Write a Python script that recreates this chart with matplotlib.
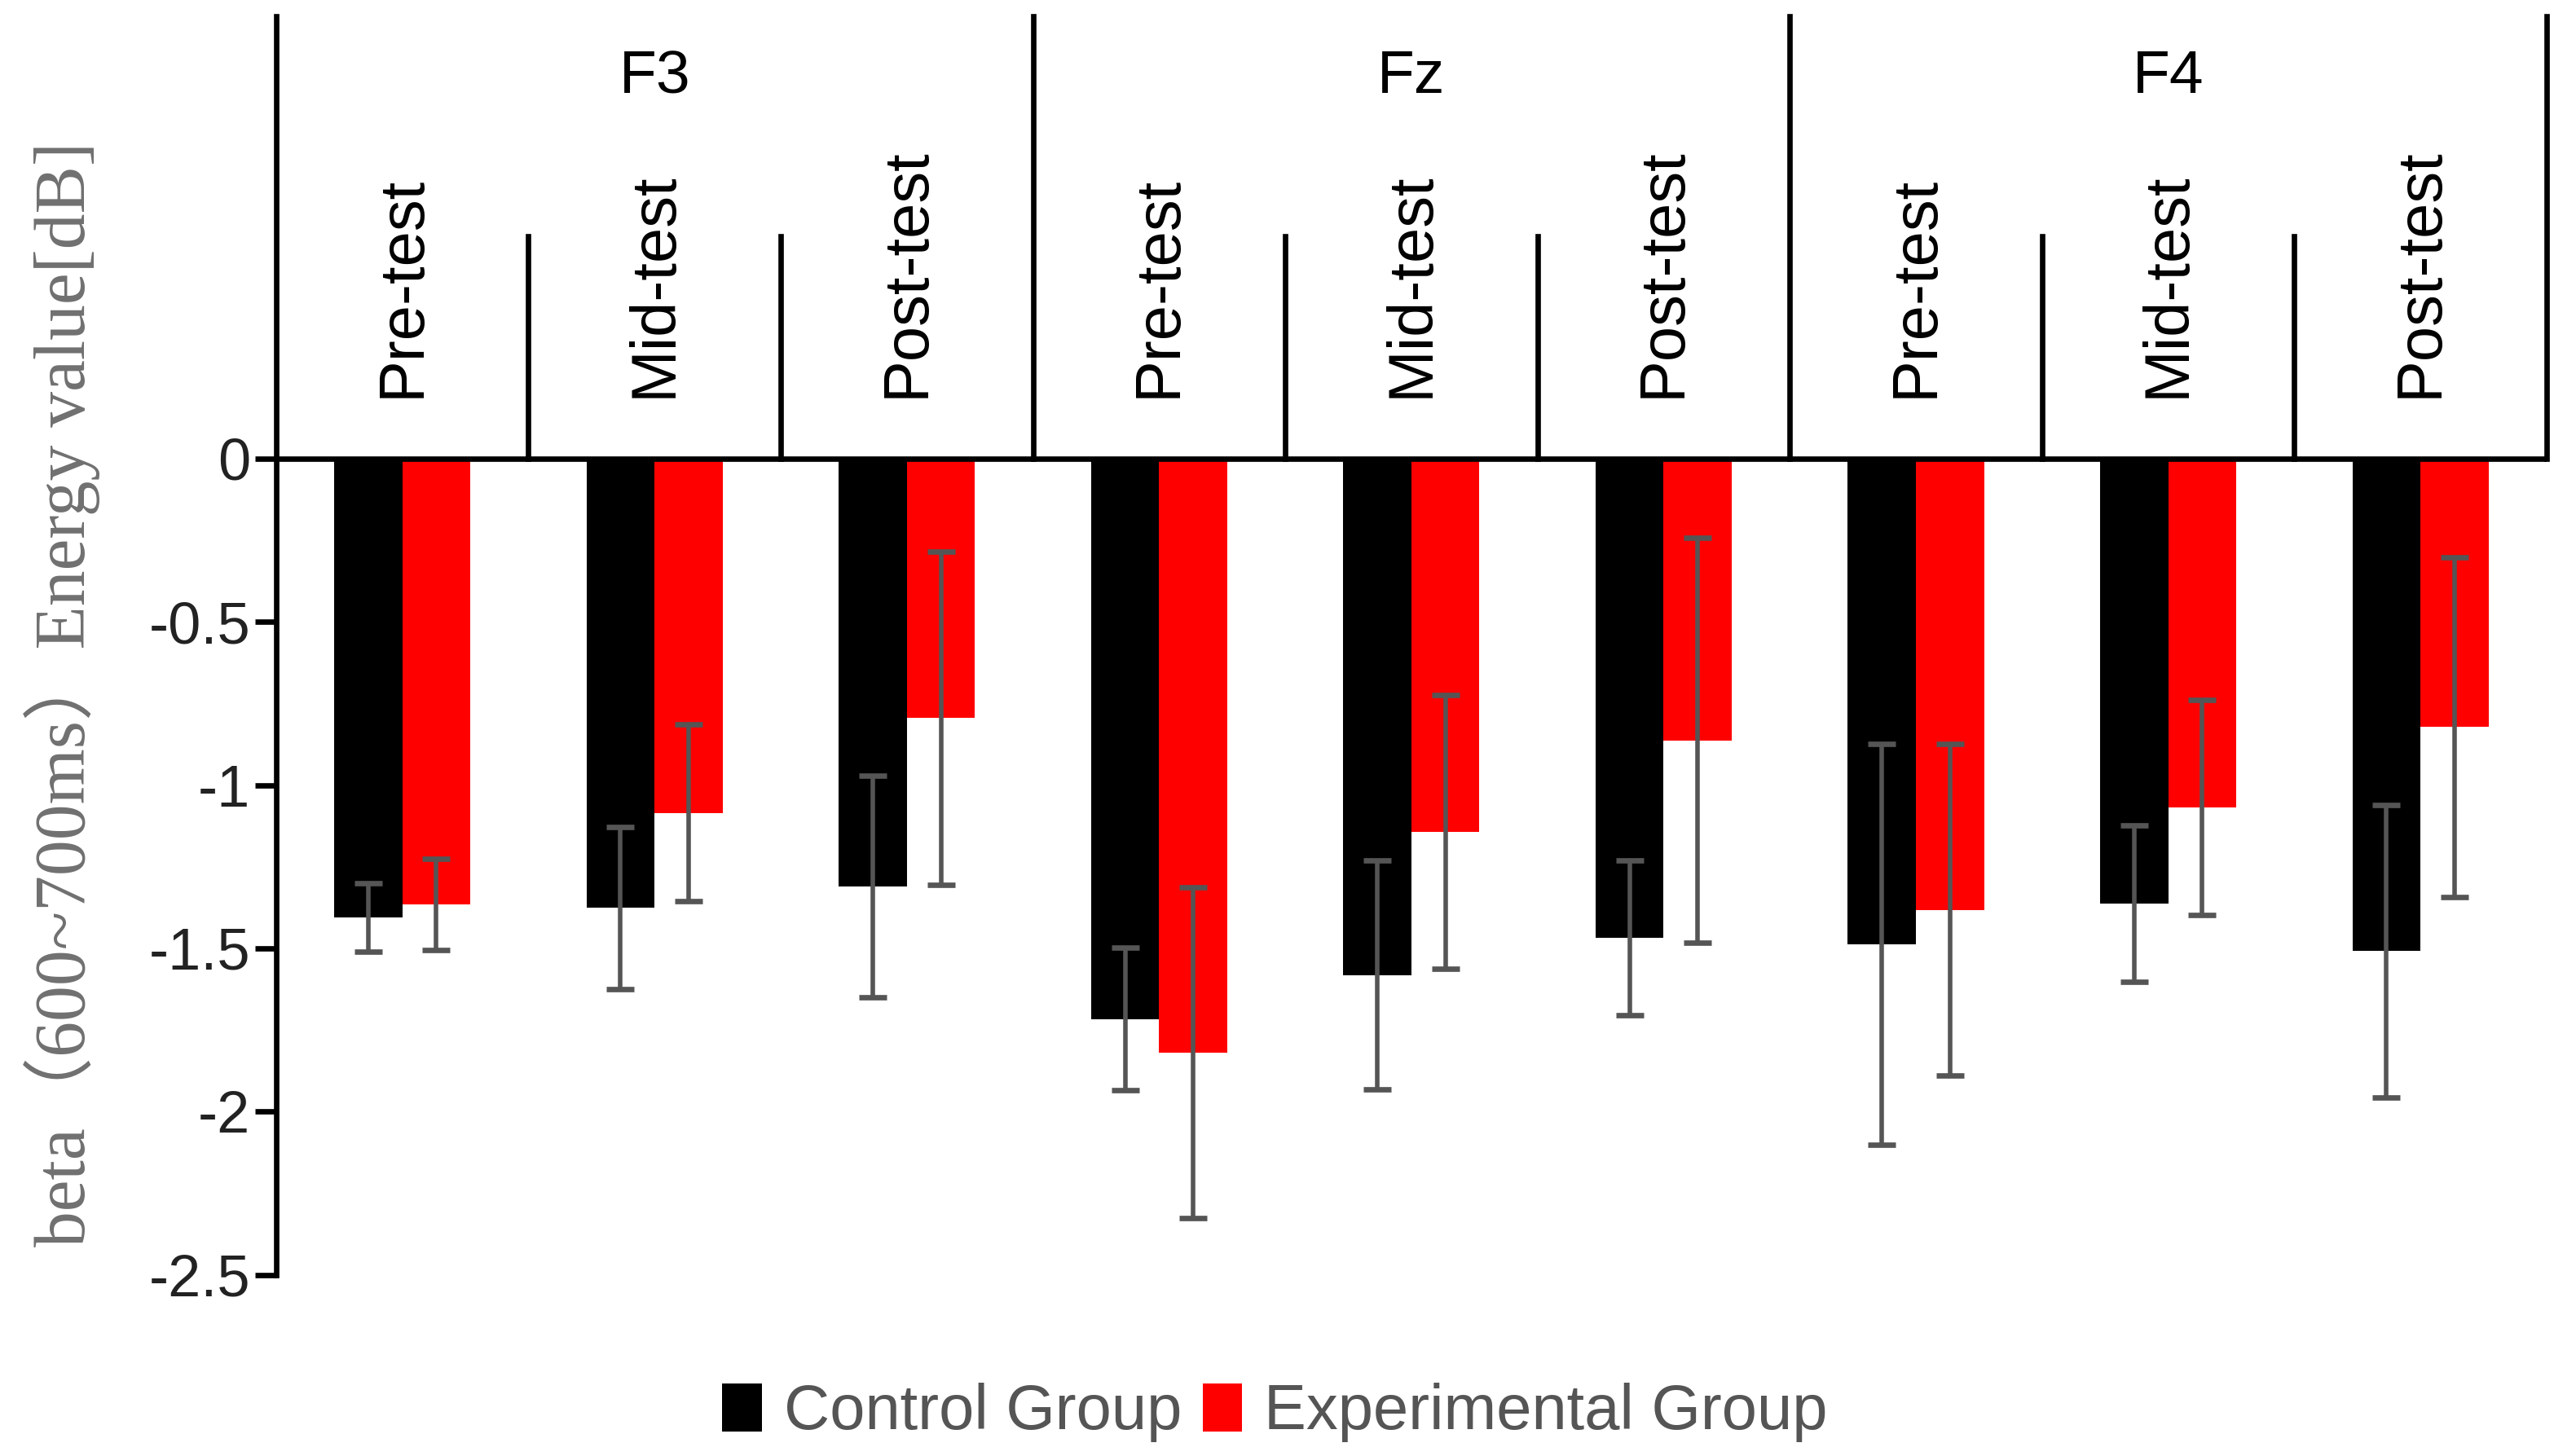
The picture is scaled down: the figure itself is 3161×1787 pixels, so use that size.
import matplotlib
matplotlib.use("Agg")
from matplotlib import pyplot as plt
import numpy as np

plt.rcParams['font.family'] = ['Liberation Sans', 'DejaVu Sans']

electrodes = ["F3", "Fz", "F4"]
phases = ["Pre-test", "Mid-test", "Post-test"]

# mean values, electrode by electrode, phase by phase
control_mean = [-1.405, -1.376, -1.310, -1.717, -1.582, -1.468, -1.488, -1.363, -1.509]
control_err = [0.105, 0.248, 0.340, 0.218, 0.350, 0.238, 0.615, 0.240, 0.448]
exp_mean = [-1.366, -1.085, -0.795, -1.819, -1.143, -0.863, -1.382, -1.069, -0.822]
exp_err = [0.140, 0.270, 0.510, 0.507, 0.420, 0.620, 0.508, 0.330, 0.520]

y_ticks = [0, -0.5, -1, -1.5, -2, -2.5]
y_tick_labels = ["0", "-0.5", "-1", "-1.5", "-2", "-2.5"]

fig = plt.figure(figsize=(15.805, 8.935), dpi=200)
ax = fig.add_axes([0.1072, 0.1245, 0.8814, 0.8643])

n = len(control_mean)
x = np.arange(n) + 0.5
w = 0.27
err_style = dict(ecolor="#555555", elinewidth=2.0, capsize=6, capthick=2.4)

ax.bar(x - w / 2, control_mean, w, color="black", label="Control Group",
       yerr=control_err, error_kw=err_style, zorder=2)
ax.bar(x + w / 2, exp_mean, w, color="#ff0000", label="Experimental Group",
       yerr=exp_err, error_kw=err_style, zorder=2)

top = 1.355
lw = 2.4
ax.set_xlim(0, n)
ax.set_ylim(-2.5, top)

# header grid: sub-cell dividers and group dividers
for i in range(1, n + 1):
    if i % 3 == 0:
        ax.plot([i, i], [0, top], color="black", lw=lw, clip_on=False, zorder=3)
    else:
        ax.plot([i, i], [0, 0.68], color="black", lw=lw, clip_on=False, zorder=3)
ax.axhline(0, color="black", lw=lw, zorder=3)

for k, name in enumerate(electrodes):
    ax.text(3 * k + 1.5, 1.12, name, ha="center", va="baseline", fontsize=27)
for i in range(n):
    ax.text(x[i], 0.186, phases[i % 3], rotation=90, ha="center", va="bottom",
            fontsize=28)

for s in ["top", "right", "bottom"]:
    ax.spines[s].set_visible(False)
ax.spines["left"].set_linewidth(lw)
ax.set_xticks([])
ax.set_yticks(y_ticks)
ax.set_yticklabels(y_tick_labels, fontsize=26, color="#222222")
ax.tick_params(axis="y", direction="out", length=9.4, width=lw, pad=2)

fig.text(0.024, 0.523, "beta（600~700ms）Energy value[dB]", rotation=90,
         ha="center", va="center", fontsize=31.5, color="#707070",
         family=["Liberation Serif", "Noto Sans CJK SC"])

leg = fig.legend(loc="center", bbox_to_anchor=(0.495, 0.0297), ncol=2,
                 frameon=False, fontsize=28, handlelength=0.62, handleheight=0.8,
                 handletextpad=0.35, columnspacing=0.33, borderpad=0)
for t in leg.get_texts():
    t.set_color("#555555")

fig.savefig("out.png", dpi=200)
